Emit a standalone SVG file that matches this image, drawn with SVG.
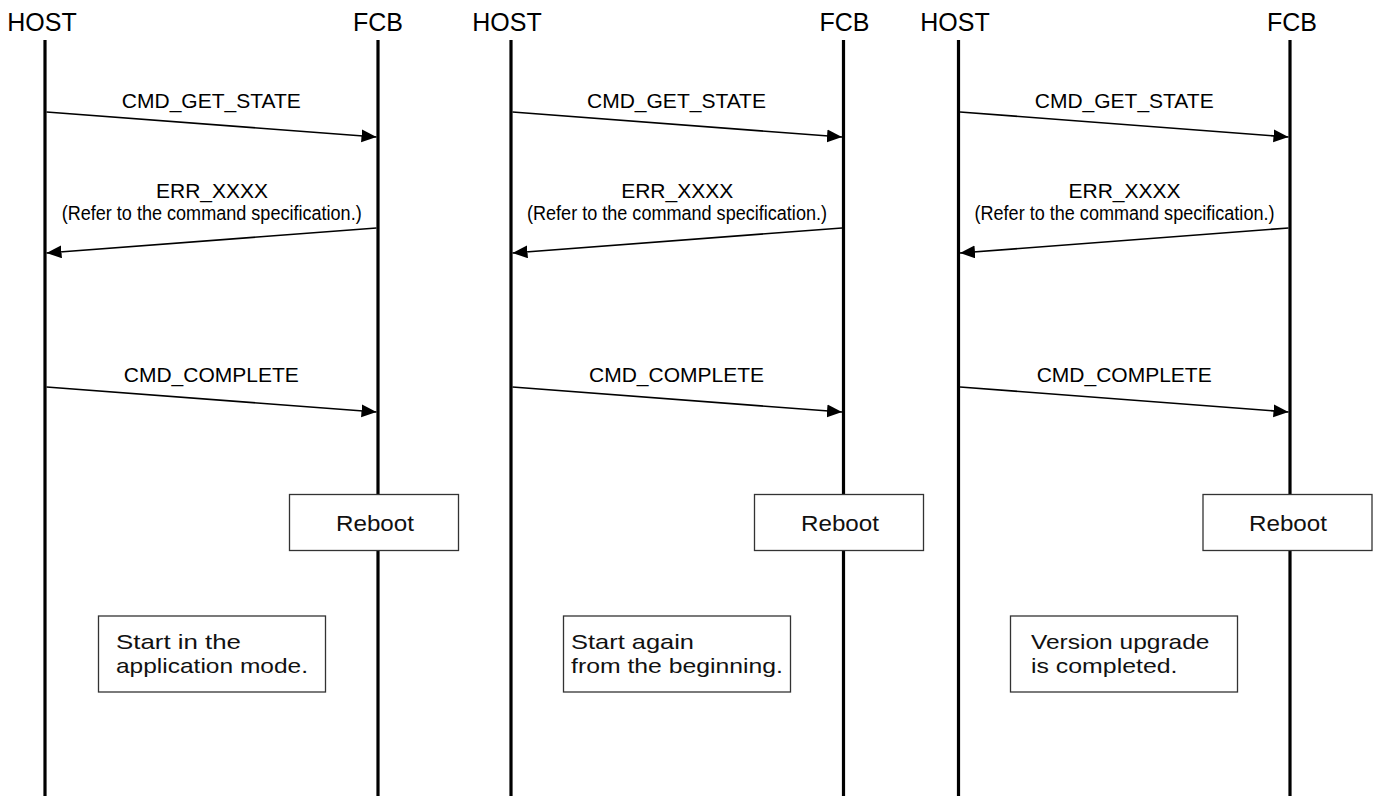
<svg xmlns="http://www.w3.org/2000/svg" width="1381" height="796" viewBox="0 0 1381 796">
<style>
.bg{fill:#ffffff}
.life{stroke:#000;stroke-width:3.2;fill:none}
.msg{stroke:#000;stroke-width:1.6;fill:none;marker-end:url(#ah)}
.head{font-family:"Liberation Sans",Arial,sans-serif;font-size:25px;fill:#000;text-anchor:middle}
.lbl{font-family:"Liberation Sans",Arial,sans-serif;font-size:21px;fill:#000;text-anchor:middle}
.sub{font-family:"Liberation Sans",Arial,sans-serif;font-size:20px;fill:#000;text-anchor:middle}
.box{fill:#fff;stroke:#333;stroke-width:1.3}
.jp{font-family:"Liberation Sans",Arial,sans-serif;font-size:21px;fill:#111}
.reb{font-family:"Liberation Sans",Arial,sans-serif;font-size:21.5px;fill:#111;text-anchor:middle}
</style>
<defs>
<marker id="ah" markerUnits="userSpaceOnUse" markerWidth="16" markerHeight="14" refX="15" refY="6.5" orient="auto">
<path d="M0,0 L15,6.5 L0,13 Z" fill="#000"/>
</marker>
</defs>
<rect class="bg" x="0" y="0" width="1381" height="796"/>

<g id="panel1-host"><text class="head" x="42" y="31">HOST</text><line class="life" x1="45" y1="40" x2="45" y2="796"/></g>
<g id="panel1-fcb"><text class="head" x="378" y="31">FCB</text><line class="life" x1="378" y1="40" x2="378" y2="796"/></g>
<g id="panel2-host"><text class="head" x="507" y="31">HOST</text><line class="life" x1="511" y1="40" x2="511" y2="796"/></g>
<g id="panel2-fcb"><text class="head" x="844.5" y="31">FCB</text><line class="life" x1="843.5" y1="40" x2="843.5" y2="796"/></g>
<g id="panel3-host"><text class="head" x="955" y="31">HOST</text><line class="life" x1="958.5" y1="40" x2="958.5" y2="796"/></g>
<g id="panel3-fcb"><text class="head" x="1292" y="31">FCB</text><line class="life" x1="1290" y1="40" x2="1290" y2="796"/></g>

<g id="connectors">
<line class="msg" x1="46.5" y1="112" x2="376.5" y2="137"/>
<line class="msg" x1="376.5" y1="228" x2="46.5" y2="253"/>
<line class="msg" x1="46.5" y1="387" x2="376.5" y2="412"/>
<line class="msg" x1="512.5" y1="112" x2="842" y2="137"/>
<line class="msg" x1="842" y1="228" x2="512.5" y2="253"/>
<line class="msg" x1="512.5" y1="387" x2="842" y2="412"/>
<line class="msg" x1="960" y1="112" x2="1288.5" y2="137"/>
<line class="msg" x1="1288.5" y1="228" x2="960" y2="253"/>
<line class="msg" x1="960" y1="387" x2="1288.5" y2="412"/>
</g>

<g id="labels1">
<text class="lbl" x="211.3" y="107.7">CMD_GET_STATE</text>
<text class="lbl" x="212" y="198.3">ERR_XXXX</text>
<text class="sub" x="211.7" y="219.5" textLength="300" lengthAdjust="spacingAndGlyphs">(Refer to the command specification.)</text>
<text class="lbl" x="211.3" y="382">CMD_COMPLETE</text>
</g>
<g id="labels2">
<text class="lbl" x="676.5" y="107.7">CMD_GET_STATE</text>
<text class="lbl" x="677.2" y="198.3">ERR_XXXX</text>
<text class="sub" x="677" y="219.5" textLength="300" lengthAdjust="spacingAndGlyphs">(Refer to the command specification.)</text>
<text class="lbl" x="676.5" y="382">CMD_COMPLETE</text>
</g>
<g id="labels3">
<text class="lbl" x="1124.2" y="107.7">CMD_GET_STATE</text>
<text class="lbl" x="1124.5" y="198.3">ERR_XXXX</text>
<text class="sub" x="1124.5" y="219.5" textLength="300" lengthAdjust="spacingAndGlyphs">(Refer to the command specification.)</text>
<text class="lbl" x="1124.2" y="382">CMD_COMPLETE</text>
</g>

<g id="reboot1"><rect class="box" x="289.5" y="494.5" width="169" height="56"/><text class="reb" x="375" y="531" textLength="78" lengthAdjust="spacingAndGlyphs">Reboot</text></g>
<g id="reboot2"><rect class="box" x="754.5" y="494.5" width="169" height="56"/><text class="reb" x="840" y="531" textLength="78" lengthAdjust="spacingAndGlyphs">Reboot</text></g>
<g id="reboot3"><rect class="box" x="1203" y="494.5" width="169" height="56"/><text class="reb" x="1288" y="531" textLength="78" lengthAdjust="spacingAndGlyphs">Reboot</text></g>

<g id="note1"><rect class="box" x="98.5" y="616" width="227" height="76"/><text class="jp" x="116" y="649.3" textLength="125" lengthAdjust="spacingAndGlyphs">Start in the</text><text class="jp" x="116" y="673.3" textLength="192" lengthAdjust="spacingAndGlyphs">application mode.</text></g>
<g id="note2"><rect class="box" x="563.5" y="616" width="227" height="76"/><text class="jp" x="571" y="649.3" textLength="123" lengthAdjust="spacingAndGlyphs">Start again</text><text class="jp" x="571" y="673.3" textLength="212" lengthAdjust="spacingAndGlyphs">from the beginning.</text></g>
<g id="note3"><rect class="box" x="1010.5" y="616" width="227" height="76"/><text class="jp" x="1031" y="649.3" textLength="178.5" lengthAdjust="spacingAndGlyphs">Version upgrade</text><text class="jp" x="1031" y="673.3" textLength="146.5" lengthAdjust="spacingAndGlyphs">is completed.</text></g>
</svg>
